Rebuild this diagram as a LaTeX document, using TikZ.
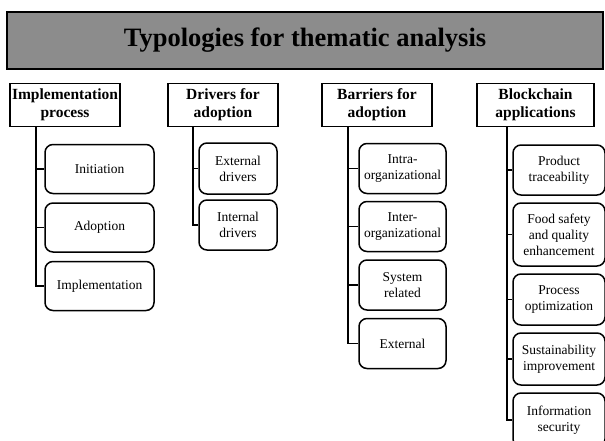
\documentclass[tikz,border=0pt]{standalone}
\usepackage{fontspec}
\setmainfont{Liberation Serif}
\definecolor{titlegray}{RGB}{140,140,140}
\begin{document}
\begin{tikzpicture}[x=1pt,y=-1pt,
 titlebox/.style={draw, line width=2pt, fill=titlegray, minimum width=596pt, minimum height=57pt, inner sep=0pt, font=\fontsize{26.5}{30}\selectfont\bfseries},
 headbox/.style={draw, line width=1.8pt, fill=white, minimum height=43pt, inner sep=0pt, align=center, font=\fontsize{15.5}{18}\selectfont\bfseries},
 childbox/.style={draw, line width=1.5pt, rounded corners=8pt, inner sep=0pt, align=center, font=\fontsize{13.5}{16}\selectfont},
 conn/.style={line width=1.5pt}]
\useasboundingbox (0,0) rectangle (605,440);
\fill[white] (0,0) rectangle (605,440);
\node[titlebox] (title) at (305,40.5) {Typologies for thematic analysis};

\node[headbox, minimum width=110pt] (h1) at (65,105) {Implementation\\process};
\node[headbox, minimum width=110pt] (h2) at (223,105) {Drivers for\\adoption};
\node[headbox, minimum width=110pt] (h3) at (377,105) {Barriers for\\adoption};
\node[headbox, minimum width=117pt] (h4) at (535.5,105) {Blockchain\\applications};

\node[childbox, minimum width=109pt, minimum height=49pt] (c11) at (99.5,169) {Initiation};
\node[childbox, minimum width=109pt, minimum height=49pt] (c12) at (99.5,227.5) {Adoption};
\node[childbox, minimum width=109pt, minimum height=49pt] (c13) at (99.5,286) {Implementation};

\node[childbox, minimum width=78pt, minimum height=51pt] (c21) at (238,168.5) {External\\drivers};
\node[childbox, minimum width=78pt, minimum height=50pt] (c22) at (238,225) {Internal\\drivers};

\node[childbox, minimum width=87pt, minimum height=50pt] (c31) at (402.5,168.5) {Intra-\\organizational};
\node[childbox, minimum width=87pt, minimum height=50pt] (c32) at (402.5,226.5) {Inter-\\organizational};
\node[childbox, minimum width=87pt, minimum height=50pt] (c33) at (402.5,285) {System\\related};
\node[childbox, minimum width=87pt, minimum height=50pt] (c34) at (402.5,343.5) {External};

\node[childbox, minimum width=92pt, minimum height=50pt] (c41) at (559,170) {Product\\traceability};
\node[childbox, minimum width=92pt, minimum height=63pt] (c42) at (559,234.5) {Food safety\\and quality\\enhancement};
\node[childbox, minimum width=92pt, minimum height=51pt] (c43) at (559,299.5) {Process\\optimization};
\node[childbox, minimum width=92pt, minimum height=52pt] (c44) at (559,359) {Sustainability\\improvement};
\node[childbox, minimum width=92pt, minimum height=54pt] (c45) at (559,420) {Information\\security};

\foreach \c in {c11,c12,c13} \draw[conn] ([xshift=27pt]h1.south west) |- (\c.west);
\foreach \c in {c21,c22} \draw[conn] ([xshift=26pt]h2.south west) |- (\c.west);
\foreach \c in {c31,c32,c33,c34} \draw[conn] ([xshift=27pt]h3.south west) |- (\c.west);
\foreach \c in {c41,c42,c43,c44,c45} \draw[conn] ([xshift=31pt]h4.south west) |- (\c.west);
\end{tikzpicture}
\end{document}
